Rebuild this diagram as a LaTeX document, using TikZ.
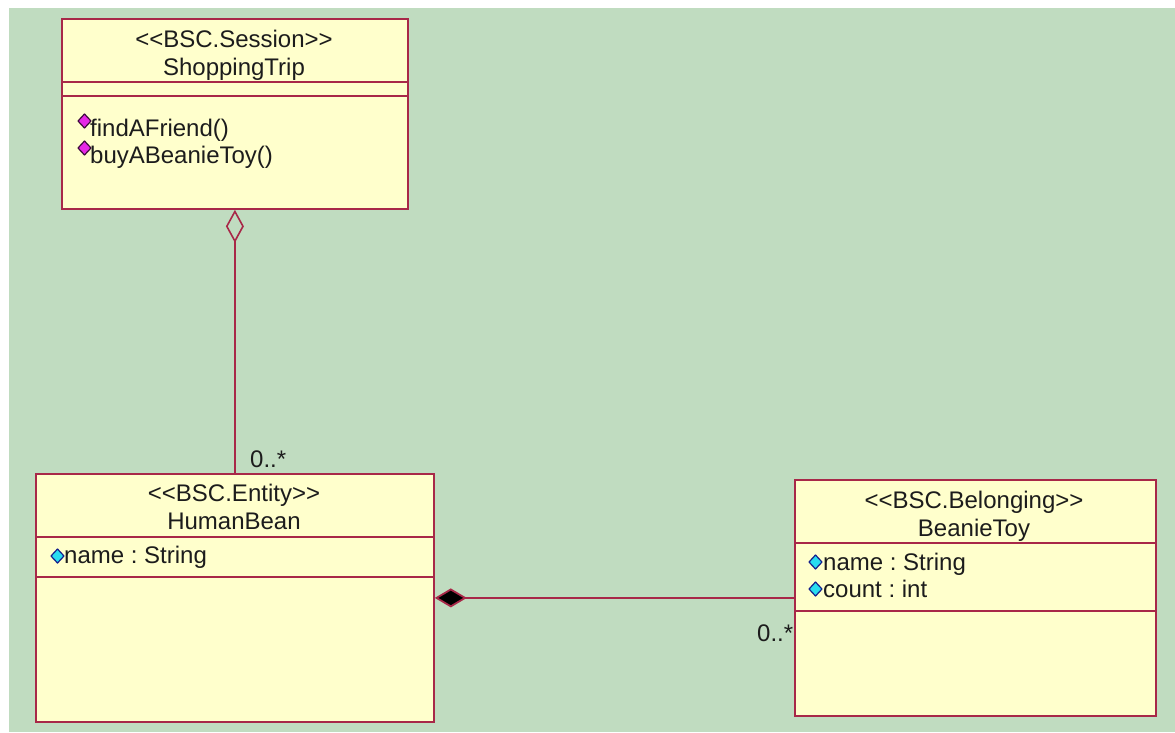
\documentclass[tikz,border=0pt]{standalone}
\usepackage{fontspec}
\setmainfont{Liberation Sans}
\usetikzlibrary{arrows.meta}
\definecolor{canvas}{RGB}{192,220,192}
\definecolor{classfill}{RGB}{255,255,204}
\definecolor{classline}{RGB}{168,40,72}
\definecolor{ink}{RGB}{28,28,28}
\definecolor{attrfill}{RGB}{40,220,240}
\definecolor{attrline}{RGB}{20,30,140}
\definecolor{opfill}{RGB}{230,40,230}
\definecolor{opline}{RGB}{60,10,60}
\tikzset{
  classbox/.style={draw=classline, fill=classfill, line width=1.8pt, inner sep=0pt, anchor=north west},
  sepline/.style={draw=classline, line width=1.8pt},
  umltext/.style={text=ink, font=\fontsize{24}{28}\selectfont\frenchspacing, inner sep=0pt},
  heading/.style={umltext, align=center},
  member/.style={umltext, anchor=base west},
  mult/.style={umltext, anchor=base west},
  link/.style={draw=classline, line width=1.8pt},
  attricon/.style={fill=attrfill, draw=attrline, line width=1.2pt, line join=round},
  opicon/.style={fill=opfill, draw=opline, line width=1.2pt, line join=round},
}
% small diamond marker drawn before a member name, given by its left corner
\newcommand{\membericon}[3]{%
  \draw[#1] (#2,#3) -- ++(6.5,-7) -- ++(6.5,7) -- ++(-6.5,7) -- cycle;}
\begin{document}
\begin{tikzpicture}[x=1pt,y=-1pt]
\useasboundingbox (0,0) rectangle (1175,732);
\fill[white] (0,0) rectangle (1175,732);
\fill[canvas] (9,8) rectangle (1175,732);

% ShoppingTrip
\node[classbox, minimum width=346pt, minimum height=190pt] (st) at (61,18) {};
\draw[sepline] (61,82) -- (407,82);
\draw[sepline] (61,96) -- (407,96);
\node[heading] (sthead) at (234,55) {<{}<BSC.Session>{}>\\ShoppingTrip};
\membericon{opicon}{78}{121}
\node[member] (op1) at (90,136) {findAFriend()};
\membericon{opicon}{78}{148}
\node[member] (op2) at (90,163) {buyABeanieToy()};

% HumanBean
\node[classbox, minimum width=398pt, minimum height=248pt] (hb) at (35,473) {};
\draw[sepline] (35,537) -- (433,537);
\draw[sepline] (35,577) -- (433,577);
\node[heading] (hbhead) at (234,507) {<{}<BSC.Entity>{}>\\HumanBean};
\membericon{attricon}{51}{556}
\node[member] (hbattr) at (64,563) {name : String};

% BeanieToy
\node[classbox, minimum width=361pt, minimum height=236pt] (bt) at (794,479) {};
\draw[sepline] (794,543) -- (1155,543);
\draw[sepline] (794,611) -- (1155,611);
\node[heading] (bthead) at (974,516) {<{}<BSC.Belonging>{}>\\BeanieToy};
\membericon{attricon}{809}{562}
\node[member] (btattr1) at (823,570) {name : String};
\membericon{attricon}{809}{589}
\node[member] (btattr2) at (823,597) {count : int};

% associations
\draw[link, {Diamond[open, length=33pt, width=18pt, line width=1.6pt]}-] (st.south) -- (hb.north);
\draw[link, {Diamond[fill=black, length=32pt, width=19pt]}-] (hb.east) -- (bt.west);

% multiplicities
\node[mult] (m1) at (250,467) {0..*};
\node[mult] (m2) at (757,641) {0..*};
\end{tikzpicture}
\end{document}
